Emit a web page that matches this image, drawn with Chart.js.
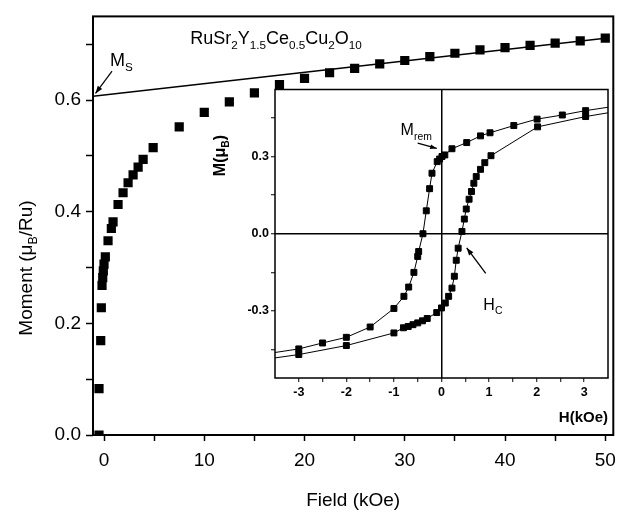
<!DOCTYPE html>
<html>
<head>
<meta charset="utf-8">
<script src="https://cdn.jsdelivr.net/npm/chart.js@4.4.1/dist/chart.umd.min.js"></script>
<style>
  html, body { margin: 0; padding: 0; background: #fff; }
  #wrap { position: relative; width: 624px; height: 512px; }
  #main { position: absolute; left: 0; top: 0; }
  #inset { position: absolute; left: 200px; top: 80px; }
</style>
</head>
<body>
<div id="wrap">
  <canvas id="main" width="624" height="512"></canvas>
  <canvas id="inset" width="420" height="350"></canvas>
</div>
<script>
// virgin magnetisation curve (main panel)
const mainField  = [-0.5, -0.5, -0.33, -0.27, -0.2, -0.13, -0.07, 0, 0.13, 0.4, 0.73, 0.9, 1.4, 1.9, 2.4, 2.9, 3.4, 3.9, 4.9,
                    7.5, 10, 12.5, 15, 17.5, 20, 22.5, 25, 27.5, 30, 32.5, 35, 37.5, 40, 42.5, 45, 47.5, 50]
const mainMoment = [0, 0.083, 0.169, 0.228, 0.268, 0.282, 0.294, 0.306, 0.319, 0.348, 0.37, 0.382, 0.413, 0.434, 0.452, 0.466, 0.48, 0.494, 0.515,
                    0.552, 0.578, 0.597, 0.613, 0.628, 0.639, 0.649, 0.657, 0.665, 0.671, 0.678, 0.684, 0.690, 0.694, 0.698, 0.702, 0.706, 0.711]
// linear high field fit, extrapolated to Ms
const fitField  = [-1.1, 50]
const fitMoment = [0.607, 0.711]

// hysteresis loop (inset)
const upField   = [4.0, 3.03, 2.54, 2.01, 1.52, 1.02, 0.82, 0.53, 0.22, 0.07, 0.01, -0.04, -0.09, -0.2, -0.25, -0.32, -0.39,
                   -0.48, -0.5, -0.58, -0.69, -0.79, -1.0, -1.5, -2.0, -2.5, -3.0, -4.0]
const upMoment  = [0.505, 0.478, 0.461, 0.445, 0.42, 0.392, 0.38, 0.354, 0.33, 0.306, 0.3, 0.29, 0.28, 0.235, 0.175, 0.089, 0.0,
                   -0.069, -0.088, -0.15, -0.207, -0.243, -0.29, -0.362, -0.402, -0.424, -0.447, -0.475]
const downField  = [-4.0, -3.0, -2.0, -1.0, -0.8, -0.7, -0.6, -0.5, -0.4, -0.3, -0.1, 0.0, 0.08, 0.15, 0.22, 0.27, 0.31, 0.35,
                    0.43, 0.48, 0.52, 0.58, 0.63, 0.68, 0.73, 0.82, 0.91, 1.04, 2.02, 3.03, 4.0]
const downMoment = [-0.495, -0.469, -0.434, -0.385, -0.365, -0.36, -0.353, -0.346, -0.338, -0.329, -0.306, -0.288, -0.269, -0.243, -0.211, -0.165, -0.103, -0.056,
                    0.009, 0.057, 0.096, 0.134, 0.164, 0.196, 0.222, 0.25, 0.276, 0.303, 0.415, 0.455, 0.485]

const mainXTicks  = [0, 5, 10, 15, 20, 25, 30, 35, 40, 45, 50]
const mainYTicks  = [0, 0.1, 0.2, 0.3, 0.4, 0.5, 0.6, 0.7]
const insetXTicks = [-3, -2.5, -2, -1.5, -1, -0.5, 0, 0.5, 1, 1.5, 2, 2.5, 3]
const insetYTicks = [-0.45, -0.3, -0.15, 0, 0.15, 0.3, 0.45]

const FONT = "'Liberation Sans', Arial, Helvetica, sans-serif"
const toXY = (xs, ys) => xs.map((x, i) => ({x, y: ys[i]}))

// text with subscripts: parts = [[text, isSub], ...]
const richWidth = (ctx, parts, size, weight = '') => {
    let w = 0
    parts.forEach(([t, sub]) => {
        ctx.font = `${weight} ${sub ? size * 0.65 : size}px ${FONT}`
        w += ctx.measureText(t).width
    })
    return w
}
const richText = (ctx, parts, x, y, size, weight = '') => {
    let cx = x
    parts.forEach(([t, sub]) => {
        ctx.font = `${weight} ${sub ? size * 0.65 : size}px ${FONT}`
        ctx.fillText(t, cx, sub ? y + size * 0.28 : y)
        cx += ctx.measureText(t).width
    })
}
const arrow = (ctx, x1, y1, x2, y2, head = 8) => {
    ctx.beginPath(); ctx.moveTo(x1, y1); ctx.lineTo(x2, y2); ctx.stroke()
    let a = Math.atan2(y2 - y1, x2 - x1)
    ctx.beginPath()
    ctx.moveTo(x2, y2)
    ctx.lineTo(x2 - head * Math.cos(a - 0.35), y2 - head * Math.sin(a - 0.35))
    ctx.lineTo(x2 - head * Math.cos(a + 0.35), y2 - head * Math.sin(a + 0.35))
    ctx.closePath(); ctx.fill()
}

const mainDecor = {
    id: 'mainDecor',
    afterDraw(chart) {
        const {ctx, chartArea: a, scales: {x, y}} = chart
        const px = v => x.getPixelForValue(v), py = v => y.getPixelForValue(v)
        ctx.save()
        ctx.strokeStyle = '#000'; ctx.fillStyle = '#000'
        ctx.lineWidth = 2
        ctx.strokeRect(a.left, a.top, a.right - a.left, a.bottom - a.top)
        ctx.textBaseline = 'alphabetic'; ctx.textAlign = 'left'

        // axis titles
        ctx.font = `19px ${FONT}`
        let t = 'Field (kOe)'
        ctx.fillText(t, (a.left + a.right) / 2 - ctx.measureText(t).width / 2, 506)
        let yParts = [['Moment (μ'], ['B', 1], ['/Ru)']]
        ctx.save()
        ctx.translate(32, 268); ctx.rotate(-Math.PI / 2)
        richText(ctx, yParts, -richWidth(ctx, yParts, 19) / 2, 0, 19)
        ctx.restore()

        // formula
        richText(ctx, [['RuSr'], ['2', 1], ['Y'], ['1.5', 1], ['Ce'], ['0.5', 1], ['Cu'], ['2', 1], ['O'], ['10', 1]],
            px(8.6), py(0.70), 18)

        // Ms
        richText(ctx, [['M'], ['S', 1]], px(0.6), py(0.662), 18)
        ctx.lineWidth = 1.2
        arrow(ctx, px(0.8), py(0.652), px(-0.85), py(0.612), 8)
        ctx.restore()
    }
}

const insetDecor = {
    id: 'insetDecor',
    afterDraw(chart) {
        const {ctx, chartArea: a, scales: {x, y}} = chart
        const px = v => x.getPixelForValue(v), py = v => y.getPixelForValue(v)
        ctx.save()
        ctx.strokeStyle = '#000'; ctx.fillStyle = '#000'
        ctx.lineWidth = 1.5
        ctx.strokeRect(a.left, a.top, a.right - a.left, a.bottom - a.top)
        ctx.textBaseline = 'alphabetic'; ctx.textAlign = 'left'

        // titles
        ctx.font = `bold 15px ${FONT}`
        let t = 'H(kOe)'
        ctx.fillText(t, a.right - ctx.measureText(t).width, a.bottom + 44)
        let yParts = [['M(μ'], ['B', 1], [')']]
        ctx.save()
        ctx.translate(a.left - 50, a.top + 66); ctx.rotate(-Math.PI / 2)
        richText(ctx, yParts, -richWidth(ctx, yParts, 16, 'bold') / 2, 0, 16, 'bold')
        ctx.restore()

        // Mrem and Hc
        richText(ctx, [['M'], ['rem', 1]], px(-0.86), py(0.382), 16)
        richText(ctx, [['H'], ['C', 1]], px(0.88), py(-0.296), 16)
        ctx.lineWidth = 1.3
        arrow(ctx, px(-0.5), py(0.352), px(-0.1), py(0.331), 7)
        arrow(ctx, px(0.93), py(-0.154), px(0.53), py(-0.055), 8)
        ctx.restore()
    }
}

new Chart(document.getElementById('main'), {
    type: 'scatter',
    data: {
        datasets: [
            {
                data: toXY(mainField, mainMoment),
                pointStyle: 'rect', pointRadius: 6.5, borderWidth: 0,
                backgroundColor: '#000', showLine: false,
            },
            {
                data: toXY(fitField, fitMoment),
                showLine: true, pointRadius: 0, borderColor: '#000', borderWidth: 1.5,
            },
        ]
    },
    options: {
        responsive: false,
        animation: false,
        layout: { padding: { left: 0, top: 11, right: 10, bottom: 0 } },
        plugins: { legend: { display: false }, tooltip: { enabled: false } },
        scales: {
            x: {
                type: 'linear', min: -1.1, max: 50.8,
                afterBuildTicks: s => { s.ticks = mainXTicks.map(v => ({value: v})) },
                afterFit: s => { s.height = 77 },
                border: { display: false },
                grid: { drawOnChartArea: false, tickLength: 6, tickColor: '#000', tickWidth: 1.5 },
                ticks: {
                    color: '#000', font: { family: FONT, size: 19 }, padding: 8, maxRotation: 0, autoSkip: false,
                    callback: v => v % 10 === 0 ? String(v) : ''
                }
            },
            y: {
                type: 'linear', min: 0, max: 0.75,
                afterBuildTicks: s => { s.ticks = mainYTicks.map(v => ({value: v})) },
                afterFit: s => { s.width = 93 },
                border: { display: false },
                grid: { drawOnChartArea: false, tickLength: 7, tickColor: '#000', tickWidth: 1.5 },
                ticks: {
                    color: '#000', font: { family: FONT, size: 19 }, padding: 5, autoSkip: false,
                    callback: v => Math.round(v * 10) % 2 === 0 ? v.toFixed(1) : ''
                }
            }
        }
    },
    plugins: [mainDecor]
})

const zeroLine = ctx => ctx.tick && ctx.tick.value === 0 ? '#000' : 'rgba(0,0,0,0)'

new Chart(document.getElementById('inset'), {
    type: 'scatter',
    data: {
        datasets: [
            {
                data: toXY(upField, upMoment),
                showLine: true, pointStyle: 'rect', pointRadius: 4.2,
                backgroundColor: '#000', borderColor: '#000', borderWidth: 1,
            },
            {
                data: toXY(downField, downMoment),
                showLine: true, pointStyle: 'rect', pointRadius: 4.2,
                backgroundColor: '#000', borderColor: '#000', borderWidth: 1,
            },
        ]
    },
    options: {
        responsive: false,
        animation: false,
        layout: { padding: { left: 0, top: 9, right: 12, bottom: 0 } },
        plugins: { legend: { display: false }, tooltip: { enabled: false } },
        scales: {
            x: {
                type: 'linear', min: -3.5, max: 3.5,
                afterBuildTicks: s => { s.ticks = insetXTicks.map(v => ({value: v})) },
                afterFit: s => { s.height = 52 },
                border: { display: false },
                grid: { color: zeroLine, lineWidth: 1.5, tickLength: 4, tickColor: '#000', tickWidth: 1 },
                ticks: {
                    color: '#000', font: { family: FONT, size: 12.5, weight: 'bold' }, padding: 3, maxRotation: 0, autoSkip: false,
                    callback: v => Number.isInteger(v) ? String(v) : ''
                }
            },
            y: {
                type: 'linear', min: -0.56, max: 0.56,
                afterBuildTicks: s => { s.ticks = insetYTicks.map(v => ({value: v})) },
                afterFit: s => { s.width = 75 },
                border: { display: false },
                grid: { color: zeroLine, lineWidth: 1.5, tickLength: 4, tickColor: '#000', tickWidth: 1 },
                ticks: {
                    color: '#000', font: { family: FONT, size: 12.5, weight: 'bold' }, padding: 2, autoSkip: false,
                    callback: v => v === 0 ? '0.0' : Math.abs(Math.abs(v) - 0.3) < 1e-9 ? v.toFixed(1) : ''
                }
            }
        }
    },
    plugins: [insetDecor]
})
</script>
</body>
</html>
